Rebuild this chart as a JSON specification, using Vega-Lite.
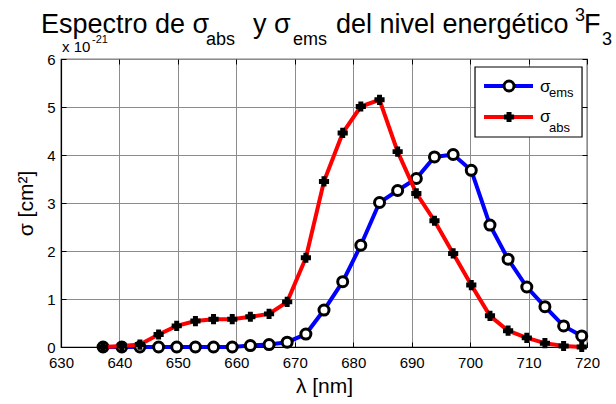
{
  "$schema": "https://vega.github.io/schema/vega-lite/v6.json",
  "width": 526,
  "height": 288,
  "autosize": "none",
  "padding": {"left": 61, "top": 59, "right": 29, "bottom": 57},
  "background": "white",
  "config": {
    "font": "Liberation Sans",
    "view": {"stroke": "black", "strokeWidth": 1.2},
    "axis": {
      "domainColor": "black",
      "domainWidth": 1.2,
      "tickColor": "black",
      "tickWidth": 1,
      "labelColor": "black",
      "labelFont": "Liberation Sans",
      "labelFontSize": 15,
      "titleFont": "Liberation Sans",
      "titleFontWeight": "normal",
      "titleColor": "black",
      "titleFontSize": 21,
      "gridColor": "#8c8c8c",
      "gridOpacity": 1,
      "gridWidth": 1
    }
  },
  "datasets": {
    "one": [{}],
    "spectra": [
    {"lambda": 637.2, "serie": "ems", "sigma": 0},
    {"lambda": 640.4, "serie": "ems", "sigma": 0},
    {"lambda": 643.5, "serie": "ems", "sigma": 0},
    {"lambda": 646.7, "serie": "ems", "sigma": 0},
    {"lambda": 649.8, "serie": "ems", "sigma": 0},
    {"lambda": 653.0, "serie": "ems", "sigma": 0},
    {"lambda": 656.1, "serie": "ems", "sigma": 0},
    {"lambda": 659.3, "serie": "ems", "sigma": 0},
    {"lambda": 662.4, "serie": "ems", "sigma": 0.03},
    {"lambda": 665.6, "serie": "ems", "sigma": 0.05},
    {"lambda": 668.7, "serie": "ems", "sigma": 0.1},
    {"lambda": 671.9, "serie": "ems", "sigma": 0.27},
    {"lambda": 675.0, "serie": "ems", "sigma": 0.77},
    {"lambda": 678.2, "serie": "ems", "sigma": 1.36},
    {"lambda": 681.3, "serie": "ems", "sigma": 2.12},
    {"lambda": 684.5, "serie": "ems", "sigma": 3.01},
    {"lambda": 687.6, "serie": "ems", "sigma": 3.26},
    {"lambda": 690.8, "serie": "ems", "sigma": 3.51},
    {"lambda": 693.9, "serie": "ems", "sigma": 3.96},
    {"lambda": 697.1, "serie": "ems", "sigma": 4.01},
    {"lambda": 700.2, "serie": "ems", "sigma": 3.68},
    {"lambda": 703.4, "serie": "ems", "sigma": 2.54},
    {"lambda": 706.5, "serie": "ems", "sigma": 1.83},
    {"lambda": 709.7, "serie": "ems", "sigma": 1.25},
    {"lambda": 712.8, "serie": "ems", "sigma": 0.84},
    {"lambda": 716.0, "serie": "ems", "sigma": 0.44},
    {"lambda": 719.1, "serie": "ems", "sigma": 0.23},
    {"lambda": 637.2, "serie": "abs", "sigma": 0},
    {"lambda": 640.4, "serie": "abs", "sigma": 0.02},
    {"lambda": 643.5, "serie": "abs", "sigma": 0.05},
    {"lambda": 646.7, "serie": "abs", "sigma": 0.26},
    {"lambda": 649.8, "serie": "abs", "sigma": 0.44},
    {"lambda": 653.0, "serie": "abs", "sigma": 0.54},
    {"lambda": 656.1, "serie": "abs", "sigma": 0.58},
    {"lambda": 659.3, "serie": "abs", "sigma": 0.58},
    {"lambda": 662.4, "serie": "abs", "sigma": 0.63},
    {"lambda": 665.6, "serie": "abs", "sigma": 0.69},
    {"lambda": 668.7, "serie": "abs", "sigma": 0.94},
    {"lambda": 671.9, "serie": "abs", "sigma": 1.86},
    {"lambda": 675.0, "serie": "abs", "sigma": 3.45},
    {"lambda": 678.2, "serie": "abs", "sigma": 4.46},
    {"lambda": 681.3, "serie": "abs", "sigma": 5.01},
    {"lambda": 684.5, "serie": "abs", "sigma": 5.15},
    {"lambda": 687.6, "serie": "abs", "sigma": 4.07},
    {"lambda": 690.8, "serie": "abs", "sigma": 3.20},
    {"lambda": 693.9, "serie": "abs", "sigma": 2.63},
    {"lambda": 697.1, "serie": "abs", "sigma": 1.95},
    {"lambda": 700.2, "serie": "abs", "sigma": 1.29},
    {"lambda": 703.4, "serie": "abs", "sigma": 0.65},
    {"lambda": 706.5, "serie": "abs", "sigma": 0.34},
    {"lambda": 709.7, "serie": "abs", "sigma": 0.19},
    {"lambda": 712.8, "serie": "abs", "sigma": 0.08},
    {"lambda": 716.0, "serie": "abs", "sigma": 0.02},
    {"lambda": 719.1, "serie": "abs", "sigma": 0.0}
    ]
  },
  "resolve": {"axis": {"x": "independent", "y": "independent"}},
  "layer": [
    {
      "data": {"name": "spectra"},
      "transform": [{"filter": "datum.serie === 'ems'"}],
      "mark": {"type": "line", "color": "#0000ff", "strokeWidth": 4},
      "encoding": {
        "x": {"field": "lambda", "type": "quantitative",
              "scale": {"domain": [630, 720], "nice": false, "zero": false},
              "axis": {"title": "λ [nm]", "values": [630, 640, 650, 660, 670, 680, 690, 700, 710, 720],
                       "grid": true, "tickSize": -5, "labelPadding": 13, "titlePadding": 5, "labelFlush": false}},
        "y": {"field": "sigma", "type": "quantitative",
              "scale": {"domain": [0, 6], "nice": false},
              "axis": {"title": "σ [cm²]", "values": [0, 1, 2, 3, 4, 5, 6],
                       "grid": true, "tickSize": -5, "labelPadding": 11, "titlePadding": 10}}
      }
    },
    {
      "data": {"name": "spectra"},
      "transform": [{"filter": "datum.serie === 'ems'"}],
      "mark": {"type": "point", "shape": "circle", "filled": false, "fill": "white", "fillOpacity": 1, "stroke": "black", "strokeWidth": 3, "size": 100, "opacity": 1},
      "encoding": {
        "x": {"field": "lambda", "type": "quantitative", "axis": null},
        "y": {"field": "sigma", "type": "quantitative", "axis": null}
      }
    },
    {
      "data": {"name": "spectra"},
      "transform": [{"filter": "datum.serie === 'abs'"}],
      "mark": {"type": "line", "color": "#ff0000", "strokeWidth": 4},
      "encoding": {
        "x": {"field": "lambda", "type": "quantitative",
              "axis": {"orient": "top", "title": null, "labels": false, "grid": false, "domain": false,
                       "values": [630, 640, 650, 660, 670, 680, 690, 700, 710, 720], "tickSize": -5}},
        "y": {"field": "sigma", "type": "quantitative",
              "axis": {"orient": "right", "title": null, "labels": false, "grid": false, "domain": false,
                       "values": [0, 1, 2, 3, 4, 5, 6], "tickSize": -5}}
      }
    },
    {
      "data": {"name": "spectra"},
      "transform": [{"filter": "datum.serie === 'abs'"}],
      "mark": {"type": "point", "shape": "cross", "filled": true, "color": "black", "stroke": "black", "strokeWidth": 1.5, "size": 75, "opacity": 1},
      "encoding": {
        "x": {"field": "lambda", "type": "quantitative", "axis": null},
        "y": {"field": "sigma", "type": "quantitative", "axis": null}
      }
    },
    {
      "data": {"name": "one"},
      "mark": {"type": "text", "text": "x 10", "fontSize": 15, "align": "left", "baseline": "alphabetic", "color": "black"},
      "encoding": {
        "x": {"datum": 630.17, "type": "quantitative", "axis": null},
        "y": {"datum": 6.146, "type": "quantitative", "axis": null}
      }
    },
    {
      "data": {"name": "one"},
      "mark": {"type": "text", "text": "-21", "fontSize": 11, "align": "left", "baseline": "alphabetic", "color": "black"},
      "encoding": {
        "x": {"datum": 635.3, "type": "quantitative", "axis": null},
        "y": {"datum": 6.33, "type": "quantitative", "axis": null}
      }
    },
    {
      "data": {"name": "one"},
      "mark": {"type": "text", "text": "Espectro de σ", "fontSize": 27, "align": "left", "baseline": "alphabetic", "color": "black"},
      "encoding": {
        "x": {"datum": 626.58, "type": "quantitative", "axis": null},
        "y": {"datum": 6.5417, "type": "quantitative", "axis": null}
      }
    },
    {
      "data": {"name": "one"},
      "mark": {"type": "text", "text": "abs", "fontSize": 18, "align": "left", "baseline": "alphabetic", "color": "black"},
      "encoding": {
        "x": {"datum": 654.81, "type": "quantitative", "axis": null},
        "y": {"datum": 6.2917, "type": "quantitative", "axis": null}
      }
    },
    {
      "data": {"name": "one"},
      "mark": {"type": "text", "text": "y σ", "fontSize": 27, "align": "left", "baseline": "alphabetic", "color": "black"},
      "encoding": {
        "x": {"datum": 662.85, "type": "quantitative", "axis": null},
        "y": {"datum": 6.5417, "type": "quantitative", "axis": null}
      }
    },
    {
      "data": {"name": "one"},
      "mark": {"type": "text", "text": "ems", "fontSize": 18, "align": "left", "baseline": "alphabetic", "color": "black"},
      "encoding": {
        "x": {"datum": 669.7, "type": "quantitative", "axis": null},
        "y": {"datum": 6.2917, "type": "quantitative", "axis": null}
      }
    },
    {
      "data": {"name": "one"},
      "mark": {"type": "text", "text": "del nivel energético", "fontSize": 27, "align": "left", "baseline": "alphabetic", "color": "black"},
      "encoding": {
        "x": {"datum": 677.05, "type": "quantitative", "axis": null},
        "y": {"datum": 6.5417, "type": "quantitative", "axis": null}
      }
    },
    {
      "data": {"name": "one"},
      "mark": {"type": "text", "text": "3", "fontSize": 18, "align": "left", "baseline": "alphabetic", "color": "black"},
      "encoding": {
        "x": {"datum": 717.95, "type": "quantitative", "axis": null},
        "y": {"datum": 6.7917, "type": "quantitative", "axis": null}
      }
    },
    {
      "data": {"name": "one"},
      "mark": {"type": "text", "text": "F", "fontSize": 27, "align": "left", "baseline": "alphabetic", "color": "black"},
      "encoding": {
        "x": {"datum": 719.49, "type": "quantitative", "axis": null},
        "y": {"datum": 6.5417, "type": "quantitative", "axis": null}
      }
    },
    {
      "data": {"name": "one"},
      "mark": {"type": "text", "text": "3", "fontSize": 18, "align": "left", "baseline": "alphabetic", "color": "black"},
      "encoding": {
        "x": {"datum": 722.57, "type": "quantitative", "axis": null},
        "y": {"datum": 6.2917, "type": "quantitative", "axis": null}
      }
    },
    {
      "data": {"name": "one"},
      "mark": {"type": "rect", "fill": "white", "stroke": "black", "strokeWidth": 1.2},
      "encoding": {
        "x": {"datum": 700.84, "type": "quantitative", "axis": null},
        "x2": {"datum": 719.15},
        "y": {"datum": 5.8333, "type": "quantitative", "axis": null},
        "y2": {"datum": 4.375}
      }
    },
    {
      "data": {"name": "one"},
      "mark": {"type": "rule", "color": "#0000ff", "strokeWidth": 4},
      "encoding": {
        "x": {"datum": 702.38, "type": "quantitative", "axis": null},
        "x2": {"datum": 710.76},
        "y": {"datum": 5.4375, "type": "quantitative", "axis": null}
      }
    },
    {
      "data": {"name": "one"},
      "mark": {"type": "point", "shape": "circle", "filled": false, "fill": "white", "fillOpacity": 1, "stroke": "black", "strokeWidth": 3, "size": 100, "opacity": 1},
      "encoding": {
        "x": {"datum": 706.66, "type": "quantitative", "axis": null},
        "y": {"datum": 5.4375, "type": "quantitative", "axis": null}
      }
    },
    {
      "data": {"name": "one"},
      "mark": {"type": "rule", "color": "#ff0000", "strokeWidth": 4},
      "encoding": {
        "x": {"datum": 702.38, "type": "quantitative", "axis": null},
        "x2": {"datum": 710.76},
        "y": {"datum": 4.7917, "type": "quantitative", "axis": null}
      }
    },
    {
      "data": {"name": "one"},
      "mark": {"type": "point", "shape": "cross", "filled": true, "color": "black", "stroke": "black", "strokeWidth": 1.5, "size": 75, "opacity": 1},
      "encoding": {
        "x": {"datum": 706.66, "type": "quantitative", "axis": null},
        "y": {"datum": 4.7917, "type": "quantitative", "axis": null}
      }
    },
    {
      "data": {"name": "one"},
      "mark": {"type": "text", "text": "σ", "fontSize": 17, "align": "left", "baseline": "alphabetic", "color": "black"},
      "encoding": {
        "x": {"datum": 711.96, "type": "quantitative", "axis": null},
        "y": {"datum": 5.3125, "type": "quantitative", "axis": null}
      }
    },
    {
      "data": {"name": "one"},
      "mark": {"type": "text", "text": "ems", "fontSize": 13, "align": "left", "baseline": "alphabetic", "color": "black"},
      "encoding": {
        "x": {"datum": 713.5, "type": "quantitative", "axis": null},
        "y": {"datum": 5.2083, "type": "quantitative", "axis": null}
      }
    },
    {
      "data": {"name": "one"},
      "mark": {"type": "text", "text": "σ", "fontSize": 17, "align": "left", "baseline": "alphabetic", "color": "black"},
      "encoding": {
        "x": {"datum": 711.96, "type": "quantitative", "axis": null},
        "y": {"datum": 4.6875, "type": "quantitative", "axis": null}
      }
    },
    {
      "data": {"name": "one"},
      "mark": {"type": "text", "text": "abs", "fontSize": 13, "align": "left", "baseline": "alphabetic", "color": "black"},
      "encoding": {
        "x": {"datum": 713.5, "type": "quantitative", "axis": null},
        "y": {"datum": 4.479, "type": "quantitative", "axis": null}
      }
    }
  ]
}
